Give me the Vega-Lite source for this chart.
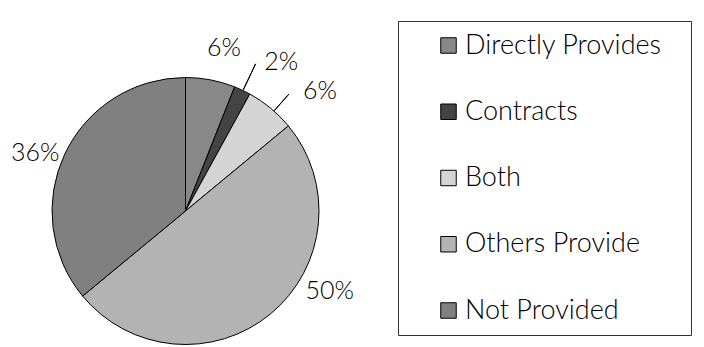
{
  "$schema": "https://vega.github.io/schema/vega-lite/v6.json",
  "width": 371,
  "height": 268,
  "autosize": {"type": "none"},
  "padding": {"left": 0, "top": 77, "right": 333, "bottom": 2},
  "background": "white",
  "config": {"view": {"stroke": null}, "font": "Lato"},
  "data": {
    "values": [
      {"category": "Directly Provides", "share": 0.06, "rank": 1},
      {"category": "Contracts", "share": 0.02, "rank": 2},
      {"category": "Both", "share": 0.06, "rank": 3},
      {"category": "Others Provide", "share": 0.50, "rank": 4},
      {"category": "Not Provided", "share": 0.36, "rank": 5}
    ]
  },
  "encoding": {
    "theta": {"field": "share", "type": "quantitative", "stack": true},
    "order": {"field": "rank", "type": "quantitative"}
  },
  "layer": [
    {
      "mark": {"type": "arc", "outerRadius": 133.5, "stroke": "black", "strokeWidth": 1},
      "encoding": {
        "color": {
          "field": "category",
          "type": "nominal",
          "scale": {
            "domain": ["Directly Provides", "Contracts", "Both", "Others Provide", "Not Provided"],
            "range": ["#888888", "#444444", "#d4d4d4", "#b3b3b3", "#808080"]
          },
          "legend": {
            "orient": "none",
            "legendX": 398,
            "legendY": -56,
            "title": " ",
            "titleOrient": "right",
            "titleFontSize": 6,
            "titlePadding": 18,
            "symbolType": "square",
            "symbolSize": 240,
            "symbolStrokeColor": "black",
            "symbolStrokeWidth": 1,
            "labelFont": "Lato",
            "labelFontSize": 27,
            "labelFontWeight": 300,
            "labelColor": "black",
            "labelOffset": 3,
            "labelLimit": 400,
            "rowPadding": 38.25,
            "padding": 11,
            "symbolOffset": 26,
            "strokeColor": "#333333",
            "fillColor": "white"
          }
        }
      }
    },
    {
      "mark": {
        "type": "arc",
        "radius2": 134,
        "radius": {"expr": "datum.category === 'Contracts' ? 163 : 156"},
        "padAngle": 1,
        "thetaOffset": {"expr": "datum.category === 'Contracts' ? 0.005 : 0.033"},
        "fillOpacity": 0,
        "stroke": "black",
        "strokeWidth": 1
      },
      "encoding": {
        "strokeOpacity": {
          "condition": {"test": "datum.category === 'Contracts' || datum.category === 'Both'", "value": 1},
          "value": 0
        }
      }
    },
    {
      "mark": {
        "type": "text",
        "font": "Lato",
        "fontSize": 25,
        "fontWeight": 300,
        "color": "black",
        "align": "center",
        "baseline": "middle",
        "radius": {"expr": "datum.category === 'Directly Provides' ? 167.5 : datum.category === 'Contracts' ? 177 : datum.category === 'Both' ? 180 : datum.category === 'Others Provide' ? 165 : 161"},
        "thetaOffset": {"expr": "datum.category === 'Directly Provides' ? 0.044 : datum.category === 'Contracts' ? 0.131 : datum.category === 'Both' ? 0.152 : datum.category === 'Others Provide' ? -0.373 : -0.073"}
      },
      "encoding": {
        "text": {"field": "share", "type": "quantitative", "format": ".0%"}
      }
    }
  ]
}
